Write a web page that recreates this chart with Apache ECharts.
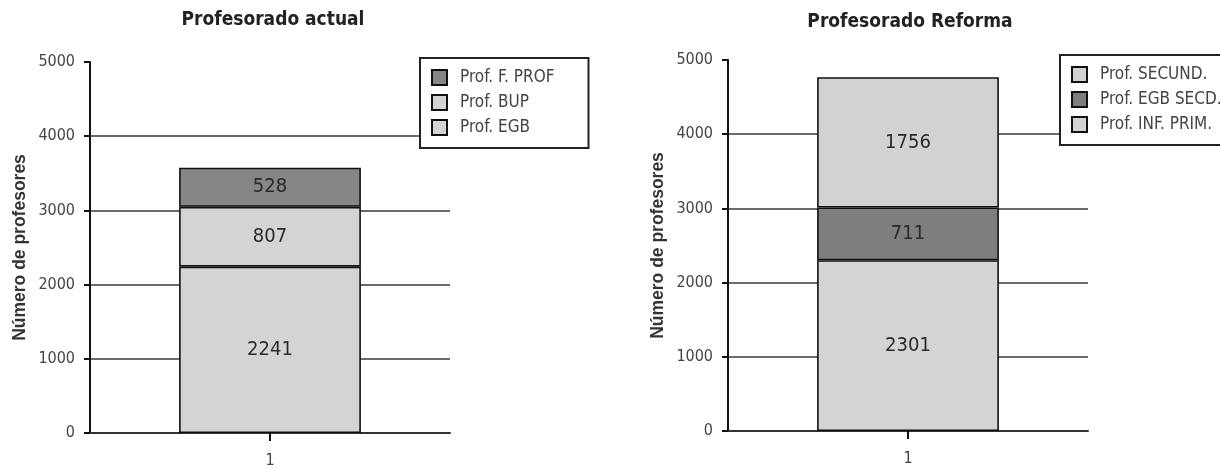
<!DOCTYPE html>
<html>
<head>
<meta charset="utf-8">
<script src="https://cdn.jsdelivr.net/npm/echarts@6/dist/echarts.min.js"></script>
<style>
html,body{margin:0;padding:0;background:#fff;}
#c{width:1220px;height:470px;}
</style>
</head>
<body>
<div id="c"></div>
<script>
// ---- data ----
const categories = ['1'];
const leftTitle = 'Profesorado actual';
const rightTitle = 'Profesorado Reforma';
const yAxisName = 'Número de profesores';
const yTicks = { min: 0, max: 5000, interval: 1000 };

const leftNames = ['Prof. EGB', 'Prof. BUP', 'Prof. F. PROF'];
const leftValues = [[2241], [807], [528]];
const rightNames = ['Prof. INF. PRIM.', 'Prof. EGB SECD.', 'Prof. SECUND.'];
const rightValues = [[2301], [711], [1756]];

// ---- style ----
const NARROW = "'Liberation Sans Narrow','DejaVu Sans Condensed',sans-serif";
const LIGHT = '#d4d4d4';
const DARK = '#868686';
const leftColors = [LIGHT, LIGHT, DARK];
const rightColors = [LIGHT, '#7e7e7e', '#d2d2d2'];
const GRID = '#3a3a3a';

function makeSeries(names, values, colors, idx) {
  return names.map((n, i) => ({
    name: n,
    type: 'bar',
    stack: 's' + idx,
    xAxisIndex: idx,
    yAxisIndex: idx,
    barWidth: '50.5%',
    data: values[i],
    itemStyle: { color: colors[i], borderColor: '#111', borderWidth: 1.6 },
    label: {
      show: true, position: 'inside', color: '#2a2a2a',
      fontFamily: NARROW, fontSize: 20
    }
  }));
}

function yAxis(idx) {
  return {
    type: 'value', gridIndex: idx,
    min: yTicks.min, max: yTicks.max, interval: yTicks.interval,
    name: yAxisName, nameLocation: 'middle', nameGap: 61,
    nameTextStyle: { fontFamily: "'Liberation Sans',Arial,sans-serif", fontWeight: 'bold', fontSize: 17.5, color: '#333' },
    axisLine: { show: true, lineStyle: { color: '#111', width: 2 } },
    axisTick: { show: true, length: 6, lineStyle: { color: '#111', width: 2 } },
    axisLabel: { fontFamily: NARROW, fontSize: 16, color: '#444', margin: 15,
                 formatter: v => String(v) },
    splitLine: { show: true, lineStyle: { color: [GRID, GRID, GRID, GRID, GRID, 'rgba(0,0,0,0)'], width: 1.6 } }
  };
}

function xAxis(idx) {
  return {
    type: 'category', gridIndex: idx, data: categories,
    axisLine: { show: true, lineStyle: { color: '#333', width: 2 } },
    axisTick: { show: true, alignWithLabel: true, length: 8, lineStyle: { color: '#111', width: 2 } },
    axisLabel: { fontFamily: NARROW, fontSize: 16, color: '#444', margin: 20 }
  };
}

function legend(names, left, top, padRight) {
  return {
    data: names.slice().reverse(),
    orient: 'vertical',
    left: left, top: top,
    itemWidth: 15, itemHeight: 15, itemGap: 8,
    padding: [11, padRight, 12, 11],
    borderColor: '#222', borderWidth: 2,
    backgroundColor: '#fff',
    icon: 'rect',
    selectedMode: false,
    textStyle: { fontFamily: NARROW, fontSize: 17, color: '#444', padding: [0, 0, 0, 8] }
  };
}

const chart = echarts.init(document.getElementById('c'), null, { renderer: 'canvas' });
chart.setOption({
  backgroundColor: '#fff',
  animation: false,
  title: [
    { text: leftTitle, left: 268, top: 6, textAlign: 'center',
      textStyle: { fontFamily: NARROW, fontWeight: 'bold', fontSize: 19, color: '#222' } },
    { text: rightTitle, left: 905, top: 8, textAlign: 'center',
      textStyle: { fontFamily: NARROW, fontWeight: 'bold', fontSize: 19, color: '#222' } }
  ],
  legend: [legend(leftNames, 420, 58, 34), legend(rightNames, 1060, 55, 30)],
  grid: [
    { left: 90, top: 62, width: 360, height: 371 },
    { left: 728, top: 60, width: 360, height: 371 }
  ],
  xAxis: [xAxis(0), xAxis(1)],
  yAxis: [yAxis(0), yAxis(1)],
  series: [].concat(makeSeries(leftNames, leftValues, leftColors, 0),
                    makeSeries(rightNames, rightValues, rightColors, 1))
});
</script>
</body>
</html>
